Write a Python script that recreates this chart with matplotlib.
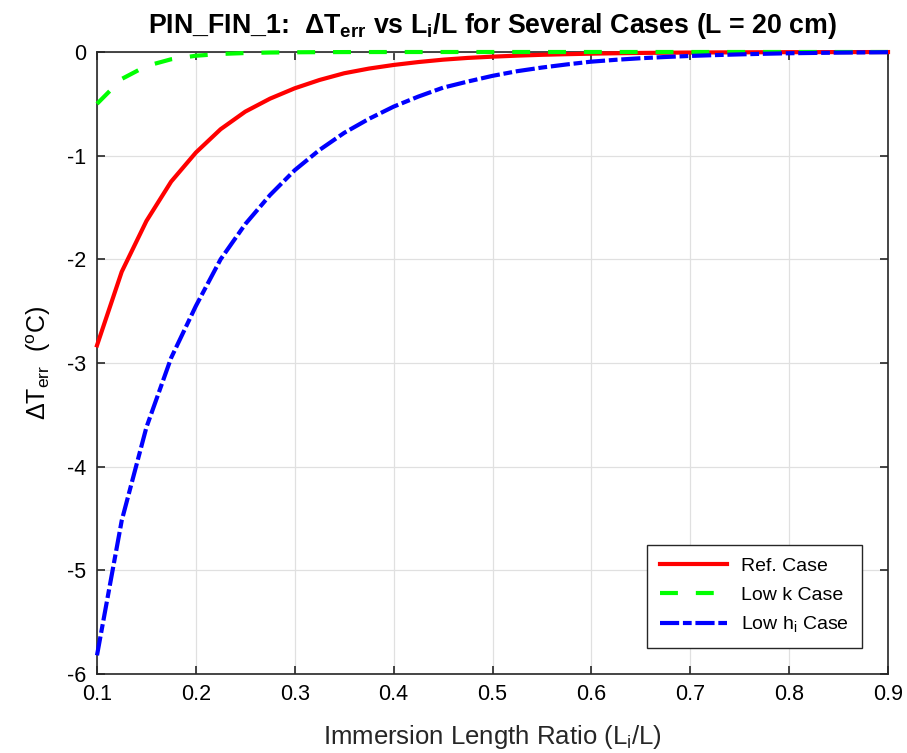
import matplotlib
matplotlib.use("Agg")
import matplotlib.pyplot as plt

# immersion length ratio Li/L, sampled every 0.025
ratio = [0.1, 0.125, 0.15, 0.175, 0.2, 0.225, 0.25, 0.275, 0.3, 0.325,
         0.35, 0.375, 0.4, 0.425, 0.45, 0.475, 0.5, 0.525, 0.55, 0.575,
         0.6, 0.625, 0.65, 0.675, 0.7, 0.725, 0.75, 0.775, 0.8, 0.825,
         0.85, 0.875, 0.9]

dt_ref = [-2.83, -2.12, -1.63, -1.25, -0.97, -0.745, -0.575, -0.45, -0.35, -0.27,
          -0.205, -0.16, -0.125, -0.097, -0.074, -0.057, -0.045, -0.035, -0.027, -0.021,
          -0.016, -0.012, -0.009, -0.007, -0.005, -0.004, -0.003, -0.0023, -0.0017, -0.0013,
          -0.001, -0.0007, -0.0005]

dt_low_k = [-0.50, -0.26, -0.135, -0.07, -0.036, -0.019, -0.01, -0.005, -0.0027, -0.0014,
            -0.0007, -0.0004, -0.0002, -0.0001, 0, 0, 0, 0, 0, 0,
            0, 0, 0, 0, 0, 0, 0, 0, 0, 0,
            0, 0, 0]

dt_low_hi = [-5.82, -4.52, -3.62, -2.95, -2.45, -2.00, -1.66, -1.38, -1.14, -0.945,
             -0.78, -0.645, -0.527, -0.43, -0.344, -0.285, -0.23, -0.185, -0.15, -0.12,
             -0.093, -0.075, -0.06, -0.048, -0.038, -0.03, -0.023, -0.017, -0.012, -0.009,
             -0.006, -0.004, -0.002]

series_labels = ["Ref. Case", "Low k Case", "Low h$_\\mathregular{i}$ Case"]

plt.rcParams["font.family"] = ["Liberation Sans", "DejaVu Sans"]
plt.rcParams["mathtext.fontset"] = "custom"
plt.rcParams["mathtext.rm"] = "Liberation Sans"
plt.rcParams["mathtext.bf"] = "Liberation Sans:bold"

axis_col = "#262626"

fig = plt.figure(figsize=(9.07, 7.53), dpi=100)
ax = fig.add_axes([97 / 907, 79 / 753, 791 / 907, 622 / 753])

ax.plot(ratio, dt_ref, color="red", lw=3, label=series_labels[0], clip_on=False, zorder=3)
ax.plot(ratio, dt_low_k, color="#00ff00", lw=3, dashes=(4.3, 4.3),
        label=series_labels[1], clip_on=False, zorder=3)
ax.plot(ratio, dt_low_hi, color="blue", lw=3, dashes=(4.6, 0.9, 2.1, 0.9),
        label=series_labels[2], clip_on=False, zorder=3)

ax.set_xlim(0.1, 0.9)
ax.set_ylim(-6, 0)
ax.set_xticks([0.1, 0.2, 0.3, 0.4, 0.5, 0.6, 0.7, 0.8, 0.9])
ax.set_yticks([-6, -5, -4, -3, -2, -1, 0])
ax.set_xticklabels(["0.1", "0.2", "0.3", "0.4", "0.5", "0.6", "0.7", "0.8", "0.9"])
ax.set_yticklabels(["-6", "-5", "-4", "-3", "-2", "-1", "0"])

ax.tick_params(direction="in", length=6, width=1.2, colors=axis_col,
               top=True, right=True, labelsize=15.5, labelcolor="black")
ax.tick_params(axis="x", pad=7)
ax.tick_params(axis="y", pad=8)
for sp in ax.spines.values():
    sp.set_color(axis_col)
    sp.set_linewidth(1.2)
ax.grid(True, color="#e0e0e0", lw=0.9)
ax.set_axisbelow(True)

ax.set_xlabel("Immersion Length Ratio (L$_\\mathregular{i}$/L)", fontsize=18.5,
              labelpad=13, color="#262626")
ax.set_ylabel("ΔT$_\\mathregular{err}$  ($^\\mathregular{o}$C)", fontsize=18, labelpad=10)
ax.set_title("PIN_FIN_1:  ΔT$_\\mathbf{err}$ vs L$_\\mathbf{i}$/L for Several Cases (L = 20 cm)",
             fontsize=19.3, fontweight="bold", pad=14)

leg = ax.legend(loc="lower right", bbox_to_anchor=(0.967, 0.042), borderaxespad=0,
                fontsize=14, handlelength=3.45, handletextpad=0.75, fancybox=False,
                framealpha=1, edgecolor=axis_col, borderpad=0.65, labelspacing=0.58)
leg.get_frame().set_linewidth(1.0)

fig.savefig("out.png", dpi=100)
